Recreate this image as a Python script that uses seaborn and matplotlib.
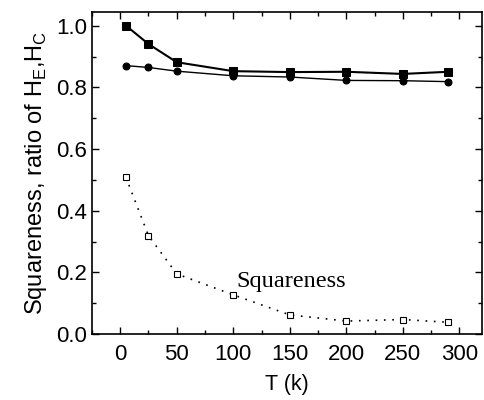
import matplotlib
matplotlib.use("Agg")
import matplotlib.pyplot as plt
from matplotlib.ticker import MultipleLocator
import seaborn as sns
import pandas as pd

# temperatures (K)
temps = [5, 25, 50, 100, 150, 200, 250, 290]
# H_E (filled squares), H_C (filled circles), squareness (open squares)
ratio_he = [1.001, 0.941, 0.882, 0.853, 0.850, 0.851, 0.844, 0.851]
ratio_hc = [0.871, 0.865, 0.853, 0.838, 0.834, 0.823, 0.822, 0.819]
squareness = [0.509, 0.319, 0.195, 0.127, 0.062, 0.042, 0.047, 0.038]

df = pd.DataFrame({"T": temps, "he": ratio_he, "hc": ratio_hc, "sq": squareness})

sns.set_style("ticks")
plt.rcParams["font.family"] = ["Liberation Sans", "DejaVu Sans"]
plt.rcParams["text.color"] = "black"
plt.rcParams["axes.labelcolor"] = "black"

fig = plt.figure(figsize=(4.84, 4.0), dpi=100)
ax = fig.add_axes([0.19, 0.165, 0.806, 0.805])

sns.lineplot(data=df, x="T", y="he", ax=ax, color="black", lw=1.5,
             marker="s", markersize=6, markeredgecolor="black", estimator=None)
sns.lineplot(data=df, x="T", y="hc", ax=ax, color="black", lw=1.0,
             marker="o", markersize=5, markeredgecolor="black", estimator=None)
sns.lineplot(data=df, x="T", y="sq", ax=ax, color="black", lw=1.2,
             linestyle=(0, (1, 4)), marker="s", markersize=5,
             markerfacecolor="white", markeredgecolor="black",
             markeredgewidth=0.8, estimator=None)

ax.text(103, 0.17, "Squareness", family="Liberation Serif", fontsize=17.5,
        va="center", ha="left", color="black")

ax.set_xlim(-25, 320)
ax.set_ylim(0.0, 1.045)
ax.xaxis.set_major_locator(MultipleLocator(50))
ax.xaxis.set_minor_locator(MultipleLocator(25))
ax.yaxis.set_minor_locator(MultipleLocator(0.1))
ax.set_yticks([0.0, 0.2, 0.4, 0.6, 0.8, 1.0])
ax.set_yticklabels(["0.0", "0.2", "0.4", "0.6", "0.8", "1.0"])

ax.tick_params(which="both", direction="in", top=True, right=True,
               labelsize=16, width=1.0, colors="black")
ax.tick_params(which="major", length=5)
ax.tick_params(which="minor", length=3)
ax.tick_params(axis="x", which="major", pad=7)
for s in ax.spines.values():
    s.set_linewidth(1.2)
    s.set_color("black")

ax.set_xlabel("T (k)", fontsize=15.5, labelpad=7)
ax.set_ylabel(r"Squareness, ratio of H$_\mathregular{E}$,H$_\mathregular{C}$",
              fontsize=17, labelpad=5)

fig.savefig("out.png", dpi=100)
